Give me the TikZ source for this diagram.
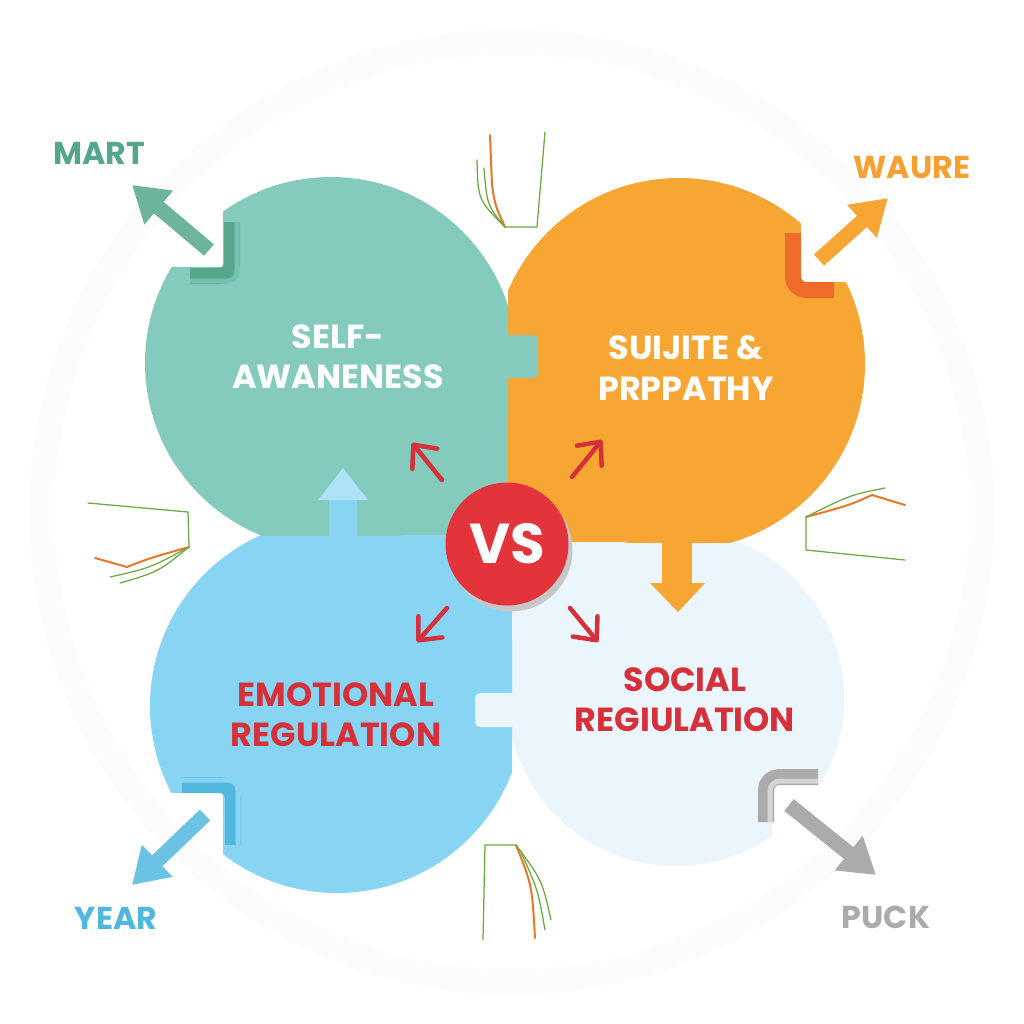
\documentclass[tikz,border=0pt]{standalone}
\usepackage{fontspec}
\setmainfont{Poppins}
\usepackage{tikz}
\usetikzlibrary{arrows.meta}
\definecolor{tealc}{HTML}{84CBBD}
\definecolor{tealdk}{HTML}{55A68D}
\definecolor{orangec}{HTML}{F7A633}
\definecolor{orangedk}{HTML}{EE6B2A}
\definecolor{bluec}{HTML}{88D5F3}
\definecolor{bluelt}{HTML}{AEE2F8}
\definecolor{bluedk}{HTML}{52B7DD}
\definecolor{palec}{HTML}{EBF5FC}
\definecolor{vsred}{HTML}{E3343C}
\definecolor{txtred}{HTML}{D6313A}
\definecolor{grayc}{HTML}{ABABAB}
\definecolor{skgreen}{HTML}{6BA83F}
\definecolor{skorange}{HTML}{E9772B}

\begin{document}
\begin{tikzpicture}[x=0.2mm,y=-0.2mm,
  every node/.style={font=\bfseries\fontsize{19}{23}\selectfont, align=center},
  corner/.style={font=\bfseries\fontsize{18}{20}\selectfont},
  bracket/.style={line width=3.2mm, rounded corners=2.6mm},
  bigarrow/.style={line width=3mm, -{Triangle[width=8.4mm,length=7mm]}},
  redarrow/.style={draw=txtred, line width=0.9mm, line cap=round, -{Straight Barb[length=3.6mm,width=6.4mm,round]}},
  sketch/.style={line width=0.25mm, line cap=round}]
\useasboundingbox (0,0) rectangle (1024,1024);
\fill[white] (0,0) rectangle (1024,1024);
\draw[black!1, line width=5mm] (512,512) circle[radius=470];

% pieces
\begin{scope}
\clip (512,542) rectangle (1024,1024);
\fill[palec] (676,698) circle[radius=168];
\fill[palec] (512,542) rectangle (676,698);
\end{scope}
\begin{scope}
\clip (0,535) rectangle (512,1024);
\fill[bluec] (337,706) circle[radius=187];
\fill[bluec] (337,535) rectangle (512,706);
\end{scope}
\begin{scope}
\clip (508,0) rectangle (1024,542);
\fill[orangec] (679,364) circle[radius=186];
\fill[orangec] (508,364) rectangle (679,542);
\end{scope}
\begin{scope}
\clip (0,0) rectangle (508,535);
\fill[tealc] (331,363) circle[radius=186];
\fill[tealc] (331,363) rectangle (508,535);
\end{scope}

% tabs
\fill[tealc, rounded corners=1mm] (498,335) rectangle (538,378);
\fill[palec, rounded corners=1mm] (475,693) rectangle (516,727);
\fill[bluec] (329,545) rectangle (357,498);
\fill[bluelt] (318,500) -- (343,468) -- (368,500) -- cycle;
\fill[orangec] (662,535) rectangle (692,585);
\fill[orangec] (650,583) -- (678,612) -- (705,583) -- cycle;

% notches and brackets
\begin{scope}
\clip (331,363) circle[radius=189];
\fill[white] (130,170) rectangle (223,267);
\end{scope}
\begin{scope}
\clip (679,364) circle[radius=189];
\fill[white] (801,170) rectangle (880,282);
\end{scope}
\begin{scope}
\clip (337,706) circle[radius=190];
\fill[white] (130,793) rectangle (223,900);
\end{scope}
\begin{scope}
\clip (676,698) circle[radius=171];
\fill[white] (772,785) rectangle (880,880);
\end{scope}
\draw[bracket, tealdk] (232,222) -- (232,276) -- (190,276);
\draw[line width=1mm, rounded corners=2mm, tealc!70!tealdk] (237,222) -- (237,281) -- (190,281);
\draw[bracket, orangedk] (793,233) -- (793,290) -- (834,290);
\draw[bracket, bluedk] (182,785) -- (233,785) -- (233,845);
\draw[line width=1mm, rounded corners=2mm, bluec] (182,780) -- (238,780) -- (238,845);
\draw[bracket, grayc] (818,777) -- (766,777) -- (766,822);
\draw[line width=1mm, rounded corners=2mm, grayc!50] (818,781) -- (770,781) -- (770,822);

% corner arrows
\coordinate (martTail) at (209,250);
\coordinate (martTip) at (132,185);
\coordinate (waureTail) at (819,260);
\coordinate (waureTip) at (888,198);
\coordinate (yearTail) at (205,815);
\coordinate (yearTip) at (132,885);
\coordinate (puckTail) at (789,805);
\coordinate (puckTip) at (876,875);
\draw[bigarrow, tealdk!85] (martTail) -- (martTip);
\draw[bigarrow, orangec] (waureTail) -- (waureTip);
\draw[bigarrow, bluedk!85] (yearTail) -- (yearTip);
\draw[bigarrow, grayc] (puckTail) -- (puckTip);

% sketches
\draw[sketch, skgreen] (545,132) -- (537,227) -- (505,227);
\draw[sketch, skorange, line width=0.4mm] (490,135) -- (492,185) .. controls (495,205) .. (505,227);
\draw[sketch, skgreen] (477,160) .. controls (478,200) .. (505,227);
\draw[sketch, skgreen] (484,168) .. controls (487,205) .. (505,227);
\draw[sketch, skgreen] (88,503) -- (188,512) -- (189,547);
\draw[sketch, skorange, line width=0.4mm] (95,558) -- (127,567) .. controls (150,558) .. (189,547);
\draw[sketch, skgreen] (110,577) .. controls (150,568) .. (189,547);
\draw[sketch, skgreen] (120,583) .. controls (158,572) .. (189,547);
\draw[sketch, skgreen] (905,560) -- (806,550) -- (806,517);
\draw[sketch, skorange, line width=0.4mm] (806,517) .. controls (850,505) .. (872,495) -- (905,505);
\draw[sketch, skgreen] (806,517) .. controls (850,495) .. (885,488);
\draw[sketch, skgreen] (483,940) -- (485,845) -- (516,845);
\draw[sketch, skorange, line width=0.4mm] (516,845) .. controls (532,885) .. (535,938);
\draw[sketch, skgreen] (516,845) .. controls (542,880) .. (551,920);
\draw[sketch, skgreen] (520,850) .. controls (538,890) .. (545,930);

% center
\fill[black!22] (511,550) circle[radius=61.5];
\node[circle, fill=vsred, minimum size=24.6mm, inner sep=0pt, text=white,
  font=\bfseries\fontsize{32}{32}\selectfont] (vs) at (507,544) {VS};
\coordinate (nwTail) at (442,480);
\coordinate (nwTip) at (412,443);
\coordinate (neTail) at (572,477);
\coordinate (neTip) at (602,440);
\coordinate (swTail) at (447,608);
\coordinate (swTip) at (417,642);
\coordinate (seTail) at (570,608);
\coordinate (seTip) at (598,642);
\draw[redarrow] (nwTail) -- (nwTip);
\draw[redarrow] (neTail) -- (neTip);
\draw[redarrow] (swTail) -- (swTip);
\draw[redarrow] (seTail) -- (seTip);

% texts
\node[text=white] (selfaw) at (338,357) {SELF-\\AWANENESS};
\node[text=white] (suijite) at (686,368) {SUIJITE \&\\PRPPATHY};
\node[text=txtred] (emoreg) at (336,715) {EMOTIONAL\\REGULATION};
\node[text=txtred] (socreg) at (685,700) {SOCIAL\\REGIULATION};
\node[corner, text=tealdk] (mart) at (99,153) {MART};
\node[corner, text=orangec!90!orangedk] (waure) at (912,167) {WAURE};
\node[corner, text=bluedk] (year) at (116,918) {YEAR};
\node[corner, text=grayc] (puck) at (886,917) {PUCK};
\end{tikzpicture}
\end{document}
